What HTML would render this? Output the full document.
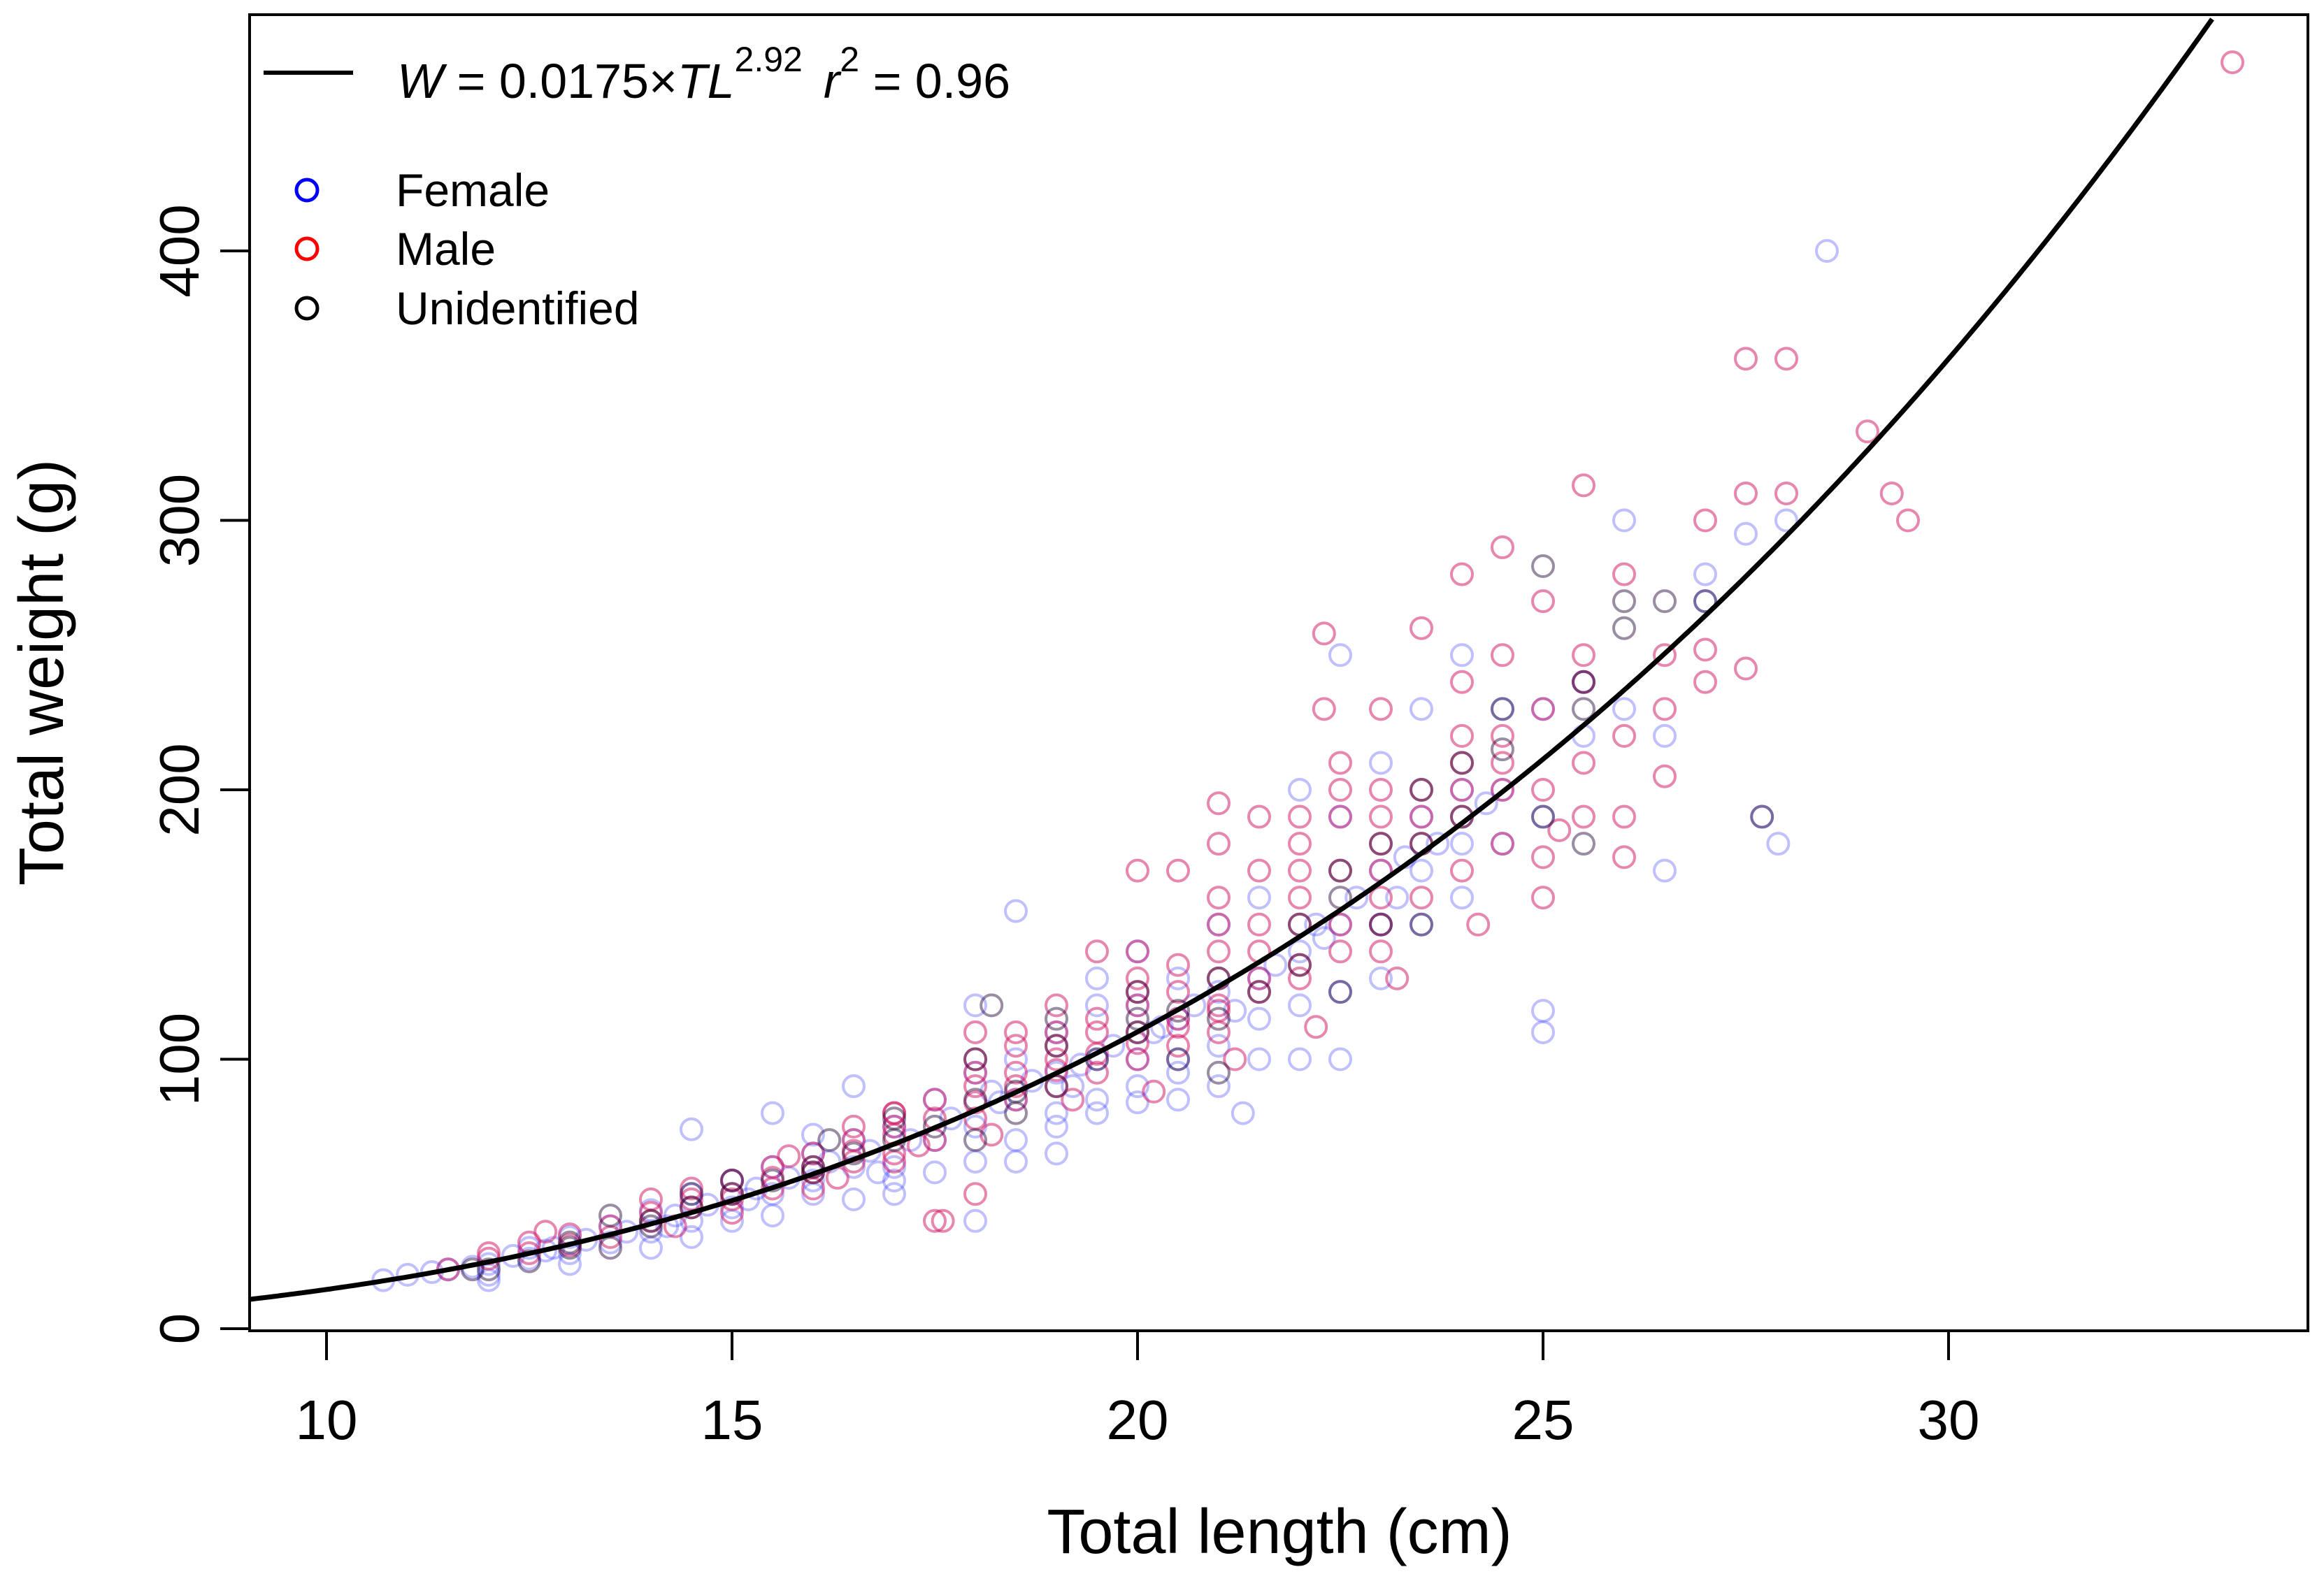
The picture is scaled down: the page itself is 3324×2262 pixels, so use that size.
<!DOCTYPE html>
<html><head><meta charset="utf-8"><style>
html,body{margin:0;padding:0;background:#fff}
svg{display:block;font-family:"Liberation Sans",Arial,sans-serif}
</style></head><body>
<svg id="chart" width="3324" height="2262" viewBox="0 0 3324 2262" xmlns="http://www.w3.org/2000/svg">
<rect width="3324" height="2262" fill="#fff"/>
<g id="points"></g>
<path id="curve" fill="none" stroke="#000" stroke-width="7"/>
<rect x="357" y="21" width="2944" height="1883" fill="none" stroke="#000" stroke-width="4"/>
<g id="xaxis"></g>
<g id="yaxis"></g>
<text x="1830" y="2222" font-size="90" text-anchor="middle">Total length (cm)</text>
<text transform="translate(90,962) rotate(-90)" font-size="90" text-anchor="middle">Total weight (g)</text>
<g>
<line x1="377" y1="104" x2="505" y2="104" stroke="#000" stroke-width="6"/>
<text x="568" y="140" font-size="70"><tspan font-style="italic">W</tspan> = 0.0175×<tspan font-style="italic">TL</tspan><tspan font-size="50" dy="-38">2.92</tspan><tspan dy="38" dx="30" font-style="italic">r</tspan><tspan font-size="50" dy="-38">2</tspan><tspan dy="38"> = 0.96</tspan></text>
<circle cx="439" cy="272" r="15" fill="none" stroke="#0000ff" stroke-width="5"/>
<text x="566" y="295" font-size="66">Female</text>
<circle cx="439" cy="356" r="15" fill="none" stroke="#ff0000" stroke-width="5"/>
<text x="566" y="379" font-size="66">Male</text>
<circle cx="439" cy="441" r="15" fill="none" stroke="#000" stroke-width="5"/>
<text x="566" y="464" font-size="66">Unidentified</text>
</g>
</svg>
<script>
const xTicks = [10, 15, 20, 25, 30];
const yTicks = [0, 100, 200, 300, 400];
const fitA = 0.0175;
const fitB = 2.92;
const femaleData = [[10.7,18],[11,20],[11.5,22],[12,24],[12,20],[12.5,26],[12.5,30],[13,28],[13,34],[13.5,32],[13.5,38],[14,36],[14,44],[14.5,40],[14.5,74],[14.5,50],[15,45],[15,55],[15.5,50],[15.5,80],[15.5,60],[16,55],[16,65],[16.5,60],[16.5,90],[16.5,70],[17,60],[17,75],[17.5,70],[17.5,85],[18,40],[18,75],[18,95],[18,120],[18.5,70],[18.5,85],[18.5,155],[19,80],[19,95],[19,110],[19.5,85],[19.5,100],[19.5,120],[20,84],[20,100],[20,120],[20,140],[20.5,95],[20.5,115],[20.5,130],[21,105],[21,125],[21,150],[21.3,80],[21.5,100],[21.5,130],[21.5,160],[22,100],[22,140],[22,200],[22.5,100],[22.5,150],[22.5,190],[22.5,250],[23,130],[23,170],[23,210],[23.5,150],[23.5,190],[23.5,230],[24,160],[24,200],[24,250],[24.5,180],[24.5,230],[25,110],[25,118],[25,190],[25,230],[25.5,220],[25.5,240],[26,230],[26,300],[26.5,220],[26.5,170],[27,270],[27,280],[27.5,295],[27.7,190],[27.9,180],[28,300],[28.5,400],[16,50],[17,55],[19,75],[12.8,30],[14.2,38],[15.2,48],[16.8,58],[18.2,88],[19.2,90],[20.2,110],[21.2,118],[22.2,150],[23.2,160],[11.3,21],[11.8,23],[12.3,27],[12.7,29],[13.2,33],[13.7,36],[14.3,42],[14.7,46],[15.3,52],[15.7,56],[16.2,62],[16.7,66],[17.2,70],[17.7,78],[18.3,84],[18.7,92],[19.3,98],[19.7,105],[20.3,112],[20.7,120],[21.7,135],[22.3,145],[22.7,160],[23.3,175],[23.7,180],[24.3,195],[15,40],[16,72],[17,50],[18,62],[18.5,100],[19,65],[19.5,130],[20,90],[20.5,85],[21,90],[21.5,115],[22,120],[22.5,125],[23,150],[23.5,170],[24,180],[24.5,200],[12,18],[13,24],[14,30],[14.5,34],[15.5,42],[16.5,48],[17.5,58],[18.5,62],[19.5,80],[20.5,100]];
const maleData = [[11.5,22],[12,28],[12.5,32],[13,35],[13.5,38],[14,40],[14,48],[14.5,45],[14.5,52],[15,48],[15,55],[15.5,52],[15.5,60],[16,58],[16,65],[16.5,62],[16.5,70],[17,65],[17,75],[17,80],[17.5,70],[17.5,85],[17.5,40],[18,78],[18,90],[18,100],[18,50],[18.5,85],[18.5,95],[18.5,105],[19,90],[19,100],[19,110],[19,120],[19.5,95],[19.5,110],[19.5,140],[20,100],[20,110],[20,120],[20,130],[20,170],[20.5,105],[20.5,115],[20.5,125],[21,110],[21,120],[21,130],[21,150],[21,180],[21,195],[21.5,130],[21.5,140],[21.5,150],[21.5,190],[22,130],[22,150],[22,160],[22,170],[22.3,258],[22.5,150],[22.5,170],[22.5,190],[22.5,210],[23,140],[23,160],[23,180],[23,200],[23,230],[23.5,160],[23.5,180],[23.5,200],[23.5,260],[24,170],[24,190],[24,200],[24,220],[24,280],[24.5,180],[24.5,200],[24.5,210],[24.5,290],[25,160],[25,200],[25,230],[25,270],[25.5,190],[25.5,210],[25.5,240],[25.5,313],[26,175],[26,220],[26,280],[26.5,205],[26.5,250],[27,240],[27,300],[27.5,245],[27.5,310],[27.5,360],[28,310],[28,360],[29,333],[29.3,310],[29.5,300],[33.5,470],[22.3,230],[17.6,40],[18,110],[20.5,170],[16.5,75],[17,80],[18.5,110],[19.5,115],[20,125],[21,140],[22,180],[23,190],[24,210],[24.5,220],[12,26],[12.5,28],[13,31],[13.5,34],[14,43],[14.5,48],[15,50],[15.5,56],[16,60],[16.5,66],[17,72],[17.5,78],[18,84],[18.5,90],[19,96],[19.5,102],[20,106],[20.5,112],[21,118],[21.5,125],[22,135],[22.5,140],[23,150],[23.5,190],[24,240],[24.5,250],[25,175],[25.5,250],[26,190],[26.5,230],[27,252],[12.7,36],[14.3,38],[15.7,64],[16.3,56],[17.3,68],[18.2,72],[19.2,85],[20.2,88],[21.2,100],[22.2,112],[23.2,130],[24.2,150],[25.2,185],[21,160],[21.5,170],[22,190],[22.5,200],[23,170],[18,95],[19,105],[20,140],[20.5,135],[17,62],[16,52],[15,43]];
const unidData = [[11.8,22],[12.5,25],[13,30],[13.5,30],[13.5,42],[14,40],[14.5,45],[15,50],[15.5,55],[16,58],[16.5,65],[17,70],[17.5,75],[18,70],[18,100],[18.5,80],[19,90],[19,115],[19.5,100],[20,110],[20,125],[20.5,100],[21,95],[21,115],[21.5,125],[22,135],[22.5,125],[22.5,160],[23,150],[23.5,150],[23.5,180],[24,210],[24.5,215],[25,190],[25,283],[25.5,180],[25.5,240],[26,270],[26.5,270],[27,270],[27.7,190],[18.2,120],[16.2,70],[12,22],[13,32],[14,38],[14.5,50],[15,55],[16,60],[17,78],[18,85],[18.5,88],[19,105],[20,115],[20.5,118],[21,130],[22,150],[22.5,170],[23,180],[23.5,200],[24,190],[24.5,230],[25.5,230],[26,260]];

const NS = 'http://www.w3.org/2000/svg';
const X0 = 467, XS = 116;
const Y0 = 1901, YS = 3.855;
function xScale(v){ return X0 + (v - 10) * XS; }
function yScale(v){ return Y0 - v * YS; }

const pts = document.getElementById('points');
function drawSeries(data, color, opacity, name){
  data.forEach(d => {
    const c = document.createElementNS(NS, 'circle');
    c.setAttribute('cx', xScale(d[0]));
    c.setAttribute('cy', yScale(d[1]));
    c.setAttribute('r', 15);
    c.setAttribute('fill', 'none');
    c.setAttribute('stroke', color);
    c.setAttribute('stroke-opacity', opacity);
    c.setAttribute('stroke-width', 4);
    
    
    pts.appendChild(c);
  });
}
drawSeries(femaleData, '#3030ff', 0.3, 'female-point');
drawSeries(maleData, '#d01060', 0.5, 'male-point');
drawSeries(unidData, '#200030', 0.45, 'unidentified-point');

let d = '';
for (let L = 9.05; L <= 34.4; L += 0.05) {
  const y = yScale(fitA * Math.pow(L, fitB));
  if (y < 21) break;
  d += (d ? 'L' : 'M') + xScale(L).toFixed(1) + ',' + y.toFixed(1);
}
document.getElementById('curve').setAttribute('d', d);

const xa = document.getElementById('xaxis');
xTicks.forEach(t => {
  const l = document.createElementNS(NS, 'line');
  l.setAttribute('x1', xScale(t)); l.setAttribute('x2', xScale(t));
  l.setAttribute('y1', 1904); l.setAttribute('y2', 1946);
  l.setAttribute('stroke', '#000'); l.setAttribute('stroke-width', 4);
  
  
  xa.appendChild(l);
  const tx = document.createElementNS(NS, 'text');
  tx.setAttribute('x', xScale(t)); tx.setAttribute('y', 2059);
  tx.setAttribute('font-size', 80); tx.setAttribute('text-anchor', 'middle');
  tx.textContent = t;
  
  
  xa.appendChild(tx);
});
const ya = document.getElementById('yaxis');
yTicks.forEach(t => {
  const l = document.createElementNS(NS, 'line');
  l.setAttribute('x1', 315); l.setAttribute('x2', 357);
  l.setAttribute('y1', yScale(t)); l.setAttribute('y2', yScale(t));
  l.setAttribute('stroke', '#000'); l.setAttribute('stroke-width', 4);
  
  
  ya.appendChild(l);
  const tx = document.createElementNS(NS, 'text');
  tx.setAttribute('transform', 'translate(284,' + yScale(t) + ') rotate(-90)');
  tx.setAttribute('font-size', 80); tx.setAttribute('text-anchor', 'middle');
  tx.textContent = t;
  
  
  ya.appendChild(tx);
});
</script>
</body></html>
